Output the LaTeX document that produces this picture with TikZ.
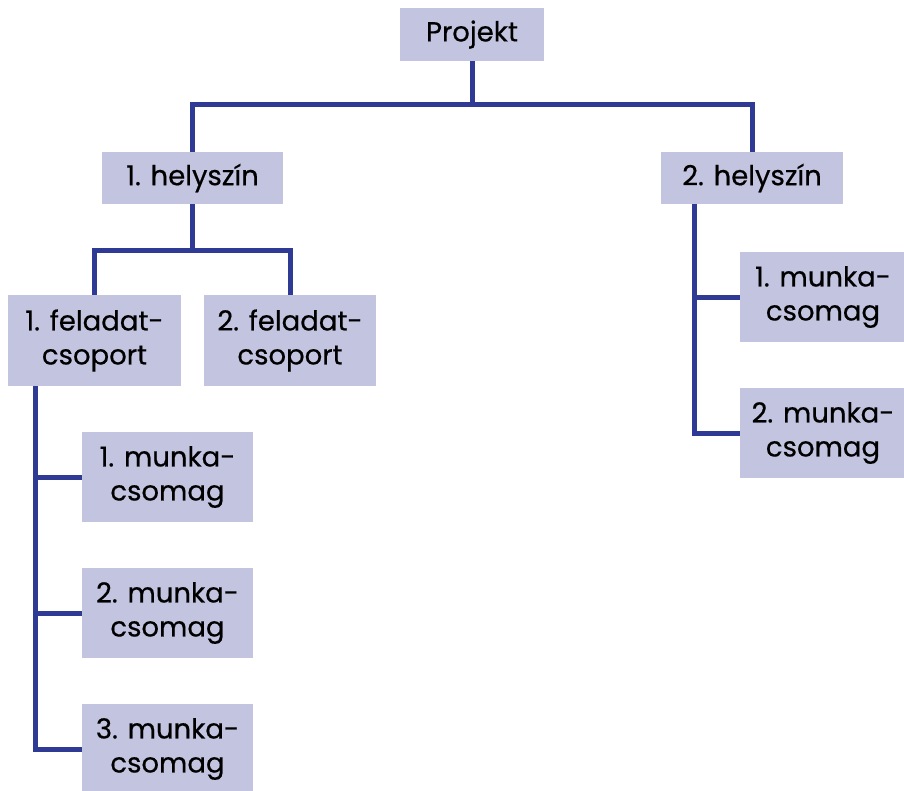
\documentclass[tikz,border=0pt]{standalone}
\usepackage{fontspec}
\setmainfont{Poppins}[FakeBold=0.5]
\definecolor{boxfill}{HTML}{C2C4E0}
\definecolor{linkblue}{HTML}{2E3A94}
\begin{document}
\begin{tikzpicture}[x=1pt,y=-1pt,
  wbox/.style={fill=boxfill, inner sep=0pt, align=center,
    font=\fontsize{27.5}{34}\selectfont},
  link/.style={draw=linkblue, line width=5pt, line join=miter}]
\useasboundingbox (0,0) rectangle (904,790);
% boxes
\node[wbox, minimum width=144pt, minimum height=53pt] (proj) at (472,34.5) {Projekt};
\node[wbox, minimum width=181pt, minimum height=52pt] (h1) at (192.5,178) {1. helyszín};
\node[wbox, minimum width=182pt, minimum height=52pt] (h2) at (752,178) {2. helyszín};
\node[wbox, minimum width=173pt, minimum height=91pt] (f1) at (94.5,340.5) {1. feladat-\\csoport};
\node[wbox, minimum width=172pt, minimum height=91pt] (f2) at (290,340.5) {2. feladat-\\csoport};
\node[wbox, minimum width=171pt, minimum height=90pt] (m1) at (167.5,477) {1. munka-\\csomag};
\node[wbox, minimum width=171pt, minimum height=90pt] (m2) at (167.5,613) {2. munka-\\csomag};
\node[wbox, minimum width=171pt, minimum height=90pt] (m3) at (167.5,749) {3. munka-\\csomag};
\node[wbox, minimum width=166pt, minimum height=90pt] (r1) at (823,297) {1. munka-\\csomag};
\node[wbox, minimum width=166pt, minimum height=90pt] (r2) at (823,433) {2. munka-\\csomag};
% connectors
\coordinate (top) at ([yshift=-43pt]proj.south);
\draw[link] (proj.south) -- (top);
\draw[link] (h1.north) |- (top) -| (h2.north);
\coordinate (mid) at ([yshift=-46pt]h1.south);
\draw[link] (h1.south) -- (mid);
\draw[link] (f1.north) |- (mid) -| (f2.north);
\coordinate (ltrunk) at ([xshift=28pt]f1.south west);
\draw[link] (ltrunk) |- (m3.west);
\draw[link] (m1.west) -- (m1.west -| ltrunk);
\draw[link] (m2.west) -- (m2.west -| ltrunk);
\coordinate (rtrunk) at ([xshift=34pt]h2.south west);
\draw[link] (rtrunk) |- (r2.west);
\draw[link] (r1.west) -- (r1.west -| rtrunk);
\end{tikzpicture}
\end{document}
